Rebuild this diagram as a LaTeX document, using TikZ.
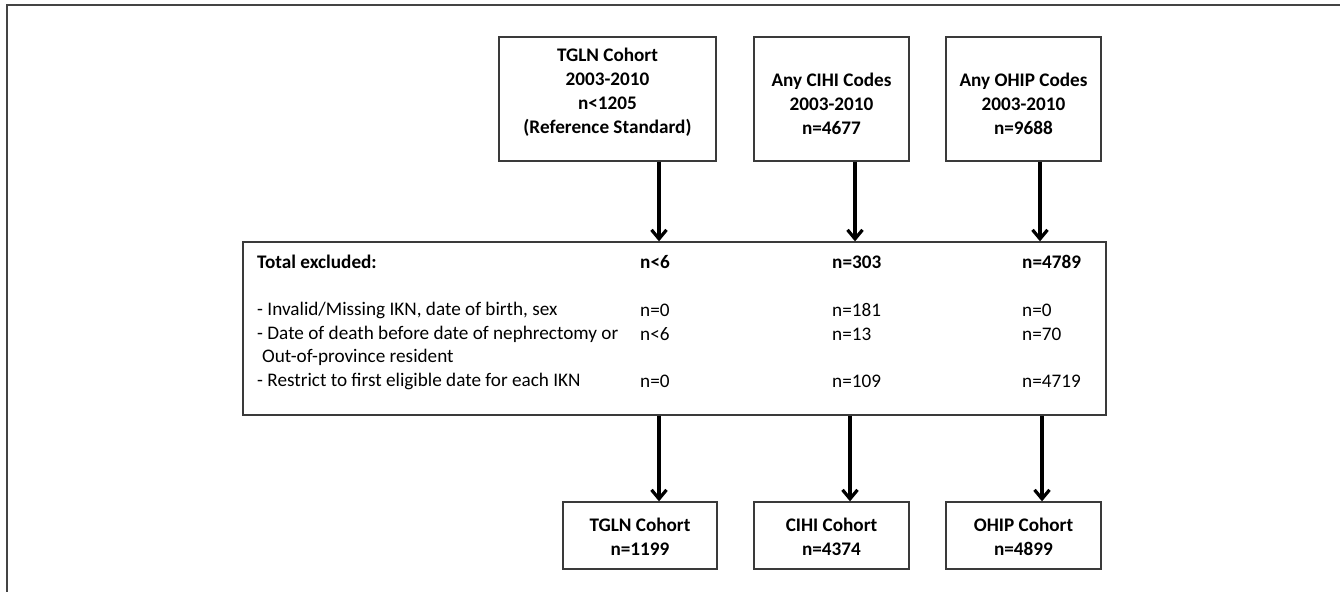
\documentclass[tikz,border=0pt]{standalone}
\usepackage{fontspec}
\setmainfont{Carlito}
\usetikzlibrary{arrows.meta}
\definecolor{boxgray}{HTML}{3A3A3A}
\definecolor{framegray}{HTML}{444444}
\begin{document}
\begin{tikzpicture}[x=1pt,y=-1pt,
  box/.style={draw=boxgray, line width=1.3pt, inner sep=0pt},
  btxt/.style={inner sep=0pt, align=center, font=\bfseries\fontsize{19.2}{24}\selectfont},
  rtxt/.style={inner sep=0pt, anchor=west, font=\fontsize{19.2}{24}\selectfont},
  rbold/.style={rtxt, font=\bfseries\fontsize{19.2}{24}\selectfont},
  arr/.style={line width=4pt, -{Straight Barb[length=9pt,width=15pt,line width=3.2pt]}}]
\useasboundingbox (0,0) rectangle (1340,592);
% outer frame
\draw[framegray, line width=1.5pt] (1340,5) -- (7,5) -- (7,592);
% top boxes
\node[box, minimum width=217pt, minimum height=124pt] (tgln) at (607.5,99) {};
\node[btxt] (tglnT) at (607.5,92.5) {TGLN Cohort\\2003-2010\\n<1205\\(Reference Standard)};
\node[box, minimum width=155pt, minimum height=124pt] (cihi) at (831.5,99) {};
\node[btxt] (cihiT) at (831.5,104) {Any CIHI Codes\\2003-2010\\n=4677};
\node[box, minimum width=155pt, minimum height=124pt] (ohip) at (1023.5,99) {};
\node[btxt] (ohipT) at (1023.5,104) {Any OHIP Codes\\2003-2010\\n=9688};
% middle box
\node[box, minimum width=863pt, minimum height=173pt] (mid) at (674.5,328.5) {};
\node[rbold] (tot) at (257,262) {Total excluded:};
\node[rbold] (t1) at (640,262) {n<6};
\node[rbold] (t2) at (832,262) {n=303};
\node[rbold] (t3) at (1022,262) {n=4789};
\node[rtxt] (r1) at (257,310) {- Invalid/Missing IKN, date of birth, sex};
\node[rtxt] (r1a) at (640,310) {n=0};
\node[rtxt] (r1b) at (832,310) {n=181};
\node[rtxt] (r1c) at (1022,310) {n=0};
\node[rtxt] (r2) at (257,334) {- Date of death before date of nephrectomy or};
\node[rtxt] (r2a) at (640,334) {n<6};
\node[rtxt] (r2b) at (832,334) {n=13};
\node[rtxt] (r2c) at (1022,334) {n=70};
\node[rtxt] (r3) at (262,357) {Out-of-province resident};
\node[rtxt] (r4) at (257,381) {- Restrict to first eligible date for each IKN};
\node[rtxt] (r4a) at (640,381) {n=0};
\node[rtxt] (r4b) at (832,381) {n=109};
\node[rtxt] (r4c) at (1022,381) {n=4719};
% bottom boxes
\node[box, minimum width=154pt, minimum height=67pt] (tglnC) at (640,535.5) {};
\node[btxt] (tglnCT) at (640,537) {TGLN Cohort\\n=1199};
\node[box, minimum width=155pt, minimum height=67pt] (cihiC) at (831.5,535.5) {};
\node[btxt] (cihiCT) at (831.5,537) {CIHI Cohort\\n=4374};
\node[box, minimum width=155pt, minimum height=67pt] (ohipC) at (1023.5,535.5) {};
\node[btxt] (ohipCT) at (1023.5,537) {OHIP Cohort\\n=4899};
% arrow columns
\coordinate (a1) at (659,0);
\coordinate (a2) at (855,0);
\coordinate (a3) at (1040,0);
\coordinate (b1) at (659,0);
\coordinate (b2) at (850,0);
\coordinate (b3) at (1042,0);
\draw[arr] (tgln.south -| a1) -- (mid.north -| a1);
\draw[arr] (cihi.south -| a2) -- (mid.north -| a2);
\draw[arr] (ohip.south -| a3) -- (mid.north -| a3);
\draw[arr] (mid.south -| b1) -- (tglnC.north -| b1);
\draw[arr] (mid.south -| b2) -- (cihiC.north -| b2);
\draw[arr] (mid.south -| b3) -- (ohipC.north -| b3);
\end{tikzpicture}
\end{document}
